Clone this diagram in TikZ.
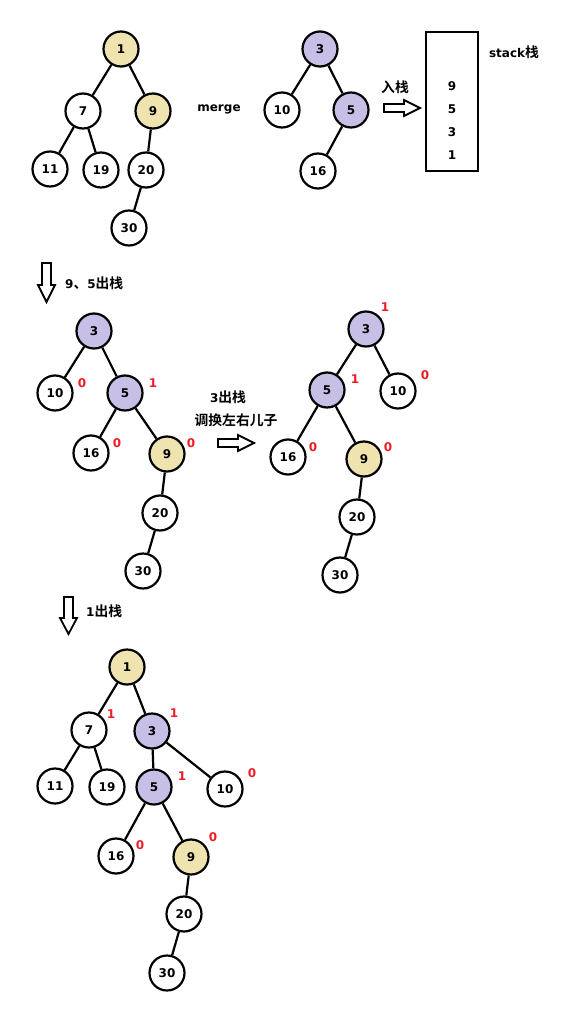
\documentclass[tikz,border=0pt]{standalone}
\usepackage{fontspec}
\setmainfont{DejaVu Sans}
\newfontfamily\cjk{Noto Sans CJK SC}[BoldFont={* Bold},Scale=1.15]
\definecolor{tanc}{HTML}{EFE4B0}
\definecolor{purc}{HTML}{C8BFE7}
\definecolor{redc}{HTML}{ED1C24}
\tikzset{
  nd/.style={circle,draw,line width=2.2pt,minimum size=35pt,inner sep=0pt,fill=white,font=\bfseries\fontsize{12}{14}\selectfont},
  tn/.style={nd,fill=tanc},
  pr/.style={nd,fill=purc},
  ed/.style={line width=2.2pt},
  lab/.style={text=redc,font=\bfseries\fontsize{12}{14}\selectfont,inner sep=0pt},
  txt/.style={font=\bfseries\fontsize{12}{14}\selectfont,inner sep=0pt},
  blk/.style={draw,line width=1.8pt,fill=white,line join=miter}
}
\begin{document}
\begin{tikzpicture}[x=1pt,y=-1pt]
\useasboundingbox (0,0) rectangle (564,1024);
% ---- tree A
\node[tn] (a1) at (121,49) {1};
\node[nd] (a7) at (83,111) {7};
\node[tn] (a9) at (153,111) {9};
\node[nd] (a11) at (50,169) {11};
\node[nd] (a19) at (101,170) {19};
\node[nd] (a20) at (146,170) {20};
\node[nd] (a30) at (129,228) {30};
\draw[ed] (a1)--(a7) (a1)--(a9) (a7)--(a11) (a7)--(a19) (a9)--(a20) (a20)--(a30);
\node[txt] (merge) at (219,109) {merge};
% ---- tree B
\node[pr] (b3) at (320,49) {3};
\node[nd] (b10) at (282,110) {10};
\node[pr] (b5) at (351,110) {5};
\node[nd] (b16) at (318,171) {16};
\draw[ed] (b3)--(b10) (b3)--(b5) (b5)--(b16);
\node[txt] (rz) at (395,87) {\cjk 入栈};
\draw[blk] (384,104)--(404,104)--(404,100)--(420,108)--(404,116)--(404,112)--(384,112)--cycle;
\node[draw,line width=2pt,minimum width=52pt,minimum height=139pt,inner sep=0pt] (stack) at (452,101.5) {};
\node[txt] (s9) at (452,86) {9};
\node[txt] (s5) at (452,109) {5};
\node[txt] (s3) at (452,132) {3};
\node[txt] (s1) at (452,155) {1};
\node[txt] (st) at (514,52) {stack{\cjk 栈}};
% ---- step 2
\draw[blk] (42,263)--(51,263)--(51,285)--(55,285)--(46.5,302)--(38,285)--(42,285)--cycle;
\node[txt,anchor=west] (t95) at (65,283) {9{\cjk 、}5{\cjk 出栈}};
\node[pr] (c3) at (94,331) {3};
\node[nd] (c10) at (55,393) {10};
\node[pr] (c5) at (125,393) {5};
\node[nd] (c16) at (91,453) {16};
\node[tn] (c9) at (167,454) {9};
\node[nd] (c20) at (160,513) {20};
\node[nd] (c30) at (143,571) {30};
\draw[ed] (c3)--(c10) (c3)--(c5) (c5)--(c16) (c5)--(c9) (c9)--(c20) (c20)--(c30);
\node[lab] (lc10) at (82,383) {0};
\node[lab] (lc5) at (153,383) {1};
\node[lab] (lc16) at (117,443) {0};
\node[lab] (lc9) at (191,443) {0};
\node[txt] (t3) at (228,397) {3{\cjk 出栈}};
\node[txt] (tsw) at (236,420) {\cjk 调换左右儿子};
\draw[blk] (218,439)--(238,439)--(238,435)--(254,443)--(238,451)--(238,447)--(218,447)--cycle;
% ---- step 3
\node[pr] (d3) at (366,329) {3};
\node[pr] (d5) at (327,390) {5};
\node[nd] (d10) at (398,391) {10};
\node[nd] (d16) at (288,457) {16};
\node[tn] (d9) at (364,459) {9};
\node[nd] (d20) at (357,517) {20};
\node[nd] (d30) at (340,575) {30};
\draw[ed] (d3)--(d5) (d3)--(d10) (d5)--(d16) (d5)--(d9) (d9)--(d20) (d20)--(d30);
\node[lab] (ld3) at (385,307) {1};
\node[lab] (ld5) at (355,379) {1};
\node[lab] (ld10) at (425,375) {0};
\node[lab] (ld16) at (313,447) {0};
\node[lab] (ld9) at (388,447) {0};
% ---- step 4
\draw[blk] (64,597)--(73,597)--(73,618)--(77,618)--(68.5,634)--(60,618)--(64,618)--cycle;
\node[txt,anchor=west] (t1) at (86,611) {1{\cjk 出栈}};
\node[tn] (e1) at (127,667) {1};
\node[nd] (e7) at (89,730) {7};
\node[pr] (e3) at (152,731) {3};
\node[nd] (e11) at (55,786) {11};
\node[nd] (e19) at (107,787) {19};
\node[pr] (e5) at (154,787) {5};
\node[nd] (e10) at (225,789) {10};
\node[nd] (e16) at (116,856) {16};
\node[tn] (e9) at (191,857) {9};
\node[nd] (e20) at (184,914) {20};
\node[nd] (e30) at (167,973) {30};
\draw[ed] (e1)--(e7) (e1)--(e3) (e7)--(e11) (e7)--(e19) (e3)--(e5) (e3)--(e10)
  (e5)--(e16) (e5)--(e9) (e9)--(e20) (e20)--(e30);
\node[lab] (le7) at (111,714) {1};
\node[lab] (le3) at (174,713) {1};
\node[lab] (le5) at (182,776) {1};
\node[lab] (le10) at (252,773) {0};
\node[lab] (le16) at (140,845) {0};
\node[lab] (le9) at (213,837) {0};
\end{tikzpicture}
\end{document}
